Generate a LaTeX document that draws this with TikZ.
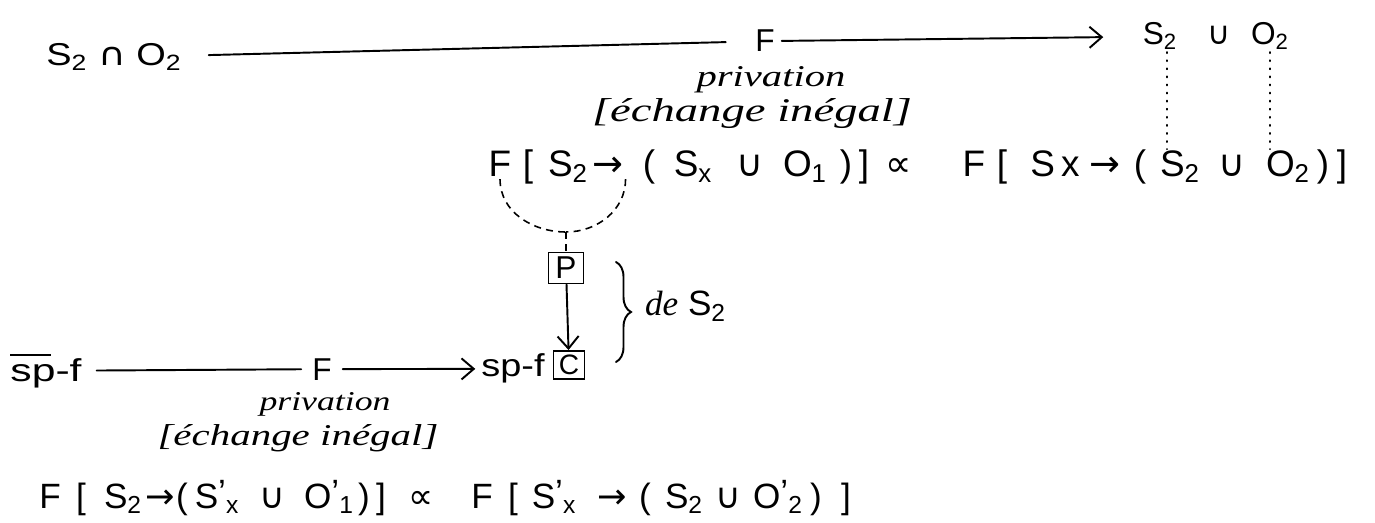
\documentclass[tikz,border=0pt]{standalone}
\usepackage{fontspec}
\usepackage{graphicx}
\setmainfont{Liberation Sans}
\newfontfamily\sym{DejaVu Sans}
\newfontfamily\hw{Liberation Serif}
\usetikzlibrary{arrows.meta,decorations.pathreplacing}
\newcommand{\fsz}[1]{\fontsize{#1}{#1}\selectfont}
\newcommand{\sbx}[1]{\textsubscript{#1}}
\newcommand{\psb}[1]{\raisebox{0.1em}{’}\textsubscript{#1}}
\newcommand{\Cup}{{\sym ∪}}
\newcommand{\Cap}{{\sym ∩}}
\newcommand{\Arr}{{\sym →}}
\newcommand{\Prop}{{\sym ∝}}
\newcommand{\fit}[3]{\resizebox{#1}{#2}{\hw\itshape #3}}
\begin{document}
\begin{tikzpicture}[x=0.02cm,y=-0.02cm,
  every node/.style={inner sep=1pt},
  big/.style={anchor=base,font=\fsz{21}},
  bot/.style={anchor=base,font=\fsz{20}},
  mid/.style={anchor=base,font=\fsz{18}},
  small/.style={anchor=base,font=\fsz{18}},
  ink/.style={line width=1.1pt,line cap=round},
  arr/.style={ink,-{Straight Barb[length=7pt,width=12pt]}},
  dsh/.style={line width=0.9pt,dash pattern=on 4pt off 3pt},
  dots/.style={line width=1pt,line cap=round,dash pattern=on 0.6pt off 4pt},
  boxed/.style={draw,line width=1.1pt,minimum width=0.70cm,minimum height=0.62cm,inner sep=0pt,font=\fsz{18}},
]
\useasboundingbox (0,0) rectangle (1375,523);

% ---- row 1
\node[mid] (t1) at (114,66) {\scalebox{1.2}[1]{S\sbx{2} \Cap{} O\sbx{2}}};
\node[mid] (tF) at (765,52) {F};
\node[mid] (tS) at (1160,45) {S\sbx{2}};
\node[mid] (tU) at (1219,45) {\Cup};
\node[mid] (tO) at (1270,45) {O\sbx{2}};
\draw[ink,shorten <=0.5cm,shorten >=0.55cm] (t1) -- (tF);
\draw[arr,shorten <=0.1cm,shorten >=0.75cm] (tF) -- (tS);
\node[anchor=base] (pv1) at (771,87) {\fit{2.98cm}{0.40cm}{privation}};
\node[anchor=base] (ex1) at (752,122) {\fit{6.4cm}{0.46cm}{[échange inégal]}};

% ---- row 2
\node[big] (a1) at (500,177) {F};
\node[big] (a2) at (528,177) {[};
\node[big] (a3) at (568,177) {S\sbx{2}};
\node[big] (a4) at (608,177) {\Arr};
\node[big] (a5) at (649,177) {(};
\node[big] (a6) at (693,177) {S\sbx{x}};
\node[big] (a7) at (750,177) {\Cup};
\node[big] (a8) at (805,177) {O\sbx{1}};
\node[big] (a9) at (846,177) {)};
\node[big] (a10) at (864,177) {]};
\node[big] (eq1) at (899,177) {\Prop};
\node[big] (b1) at (974,177) {F};
\node[big] (b2) at (1002,177) {[};
\node[big] (b3) at (1055,177) {S\,x};
\node[big] (b4) at (1105,177) {\Arr};
\node[big] (b5) at (1140,177) {(};
\node[big] (b6) at (1180,177) {S\sbx{2}};
\node[big] (b7) at (1232,177) {\Cup};
\node[big] (b8) at (1288,177) {O\sbx{2}};
\node[big] (b9) at (1323,177) {)};
\node[big] (b10) at (1342,177) {]};

\draw[dots] ([xshift=0.14cm]tS.south) -- ([xshift=0.14cm]tS.south |- b6.north);
\draw[dots] (tO.south) -- (tO.south |- b8.north);

% ---- P / C
\node[boxed] (P) at (566,268) {P};
\node[boxed,minimum width=0.62cm,minimum height=0.56cm,font=\fsz{16}] (C) at (569,365) {C};
\coordinate (jn) at (566,232);
\draw[dsh] (a1.south) to[out=-90,in=180] (jn);
\draw[dsh] (a4.south east) to[out=-90,in=0] (jn);
\draw[dsh] (jn) -- (P.north);
\draw[arr] (P) -- (C);

\coordinate (br1) at (616,262);
\coordinate (br2) at (616,362);
\draw[ink,decorate,decoration={brace,amplitude=0.3cm}] (br1) -- (br2);
\node[anchor=west,font=\fsz{20}] (de) at (643,306) {{\hw\itshape de} S\sbx{2}};

% ---- row 3
\node[small] (s1) at (46,381) {\scalebox{1.35}[1]{\rlap{\rule[0.8em]{0.95em}{0.9pt}}sp-f}};
\node[small] (F3) at (322,380) {F};
\node[small] (s2) at (513,377) {\scalebox{1.2}[1]{sp-f}};
\draw[ink,shorten <=0.26cm,shorten >=0.18cm] (s1) -- (F3);
\draw[arr,shorten <=0.18cm,shorten >=0.08cm] (F3) -- (s2);
\node[anchor=base] (pv2) at (325,410) {\fit{2.62cm}{0.36cm}{privation}};
\node[anchor=base] (ex2) at (298,445) {\fit{5.62cm}{0.42cm}{[échange inégal]}};

% ---- bottom formula
\node[bot] (d1) at (50,508) {F};
\node[bot] (d2) at (81,508) {[};
\node[bot] (d3) at (123,508) {S\sbx{2}};
\node[bot] (d4) at (160,508) {\Arr};
\node[bot] (d5) at (182,508) {(};
\node[bot] (d6) at (217,508) {S\psb{x}};
\node[bot] (d7) at (272,508) {\Cup};
\node[bot] (d8) at (329,508) {O\psb{1}};
\node[bot] (d9) at (364,508) {)};
\node[bot] (d10) at (381,508) {]};
\node[bot] (eq2) at (421,508) {\Prop};
\node[bot] (e1) at (482,508) {F};
\node[bot] (e2) at (513,508) {[};
\node[bot] (e3) at (554,508) {S\psb{x}};
\node[bot] (e4) at (612,508) {\Arr};
\node[bot] (e5) at (645,508) {(};
\node[bot] (e6) at (684,508) {S\sbx{2}};
\node[bot] (e7) at (728,508) {\Cup};
\node[bot] (e8) at (778,508) {O\psb{2}};
\node[bot] (e9) at (816,508) {)};
\node[bot] (e10) at (846,508) {]};
\end{tikzpicture}
\end{document}
